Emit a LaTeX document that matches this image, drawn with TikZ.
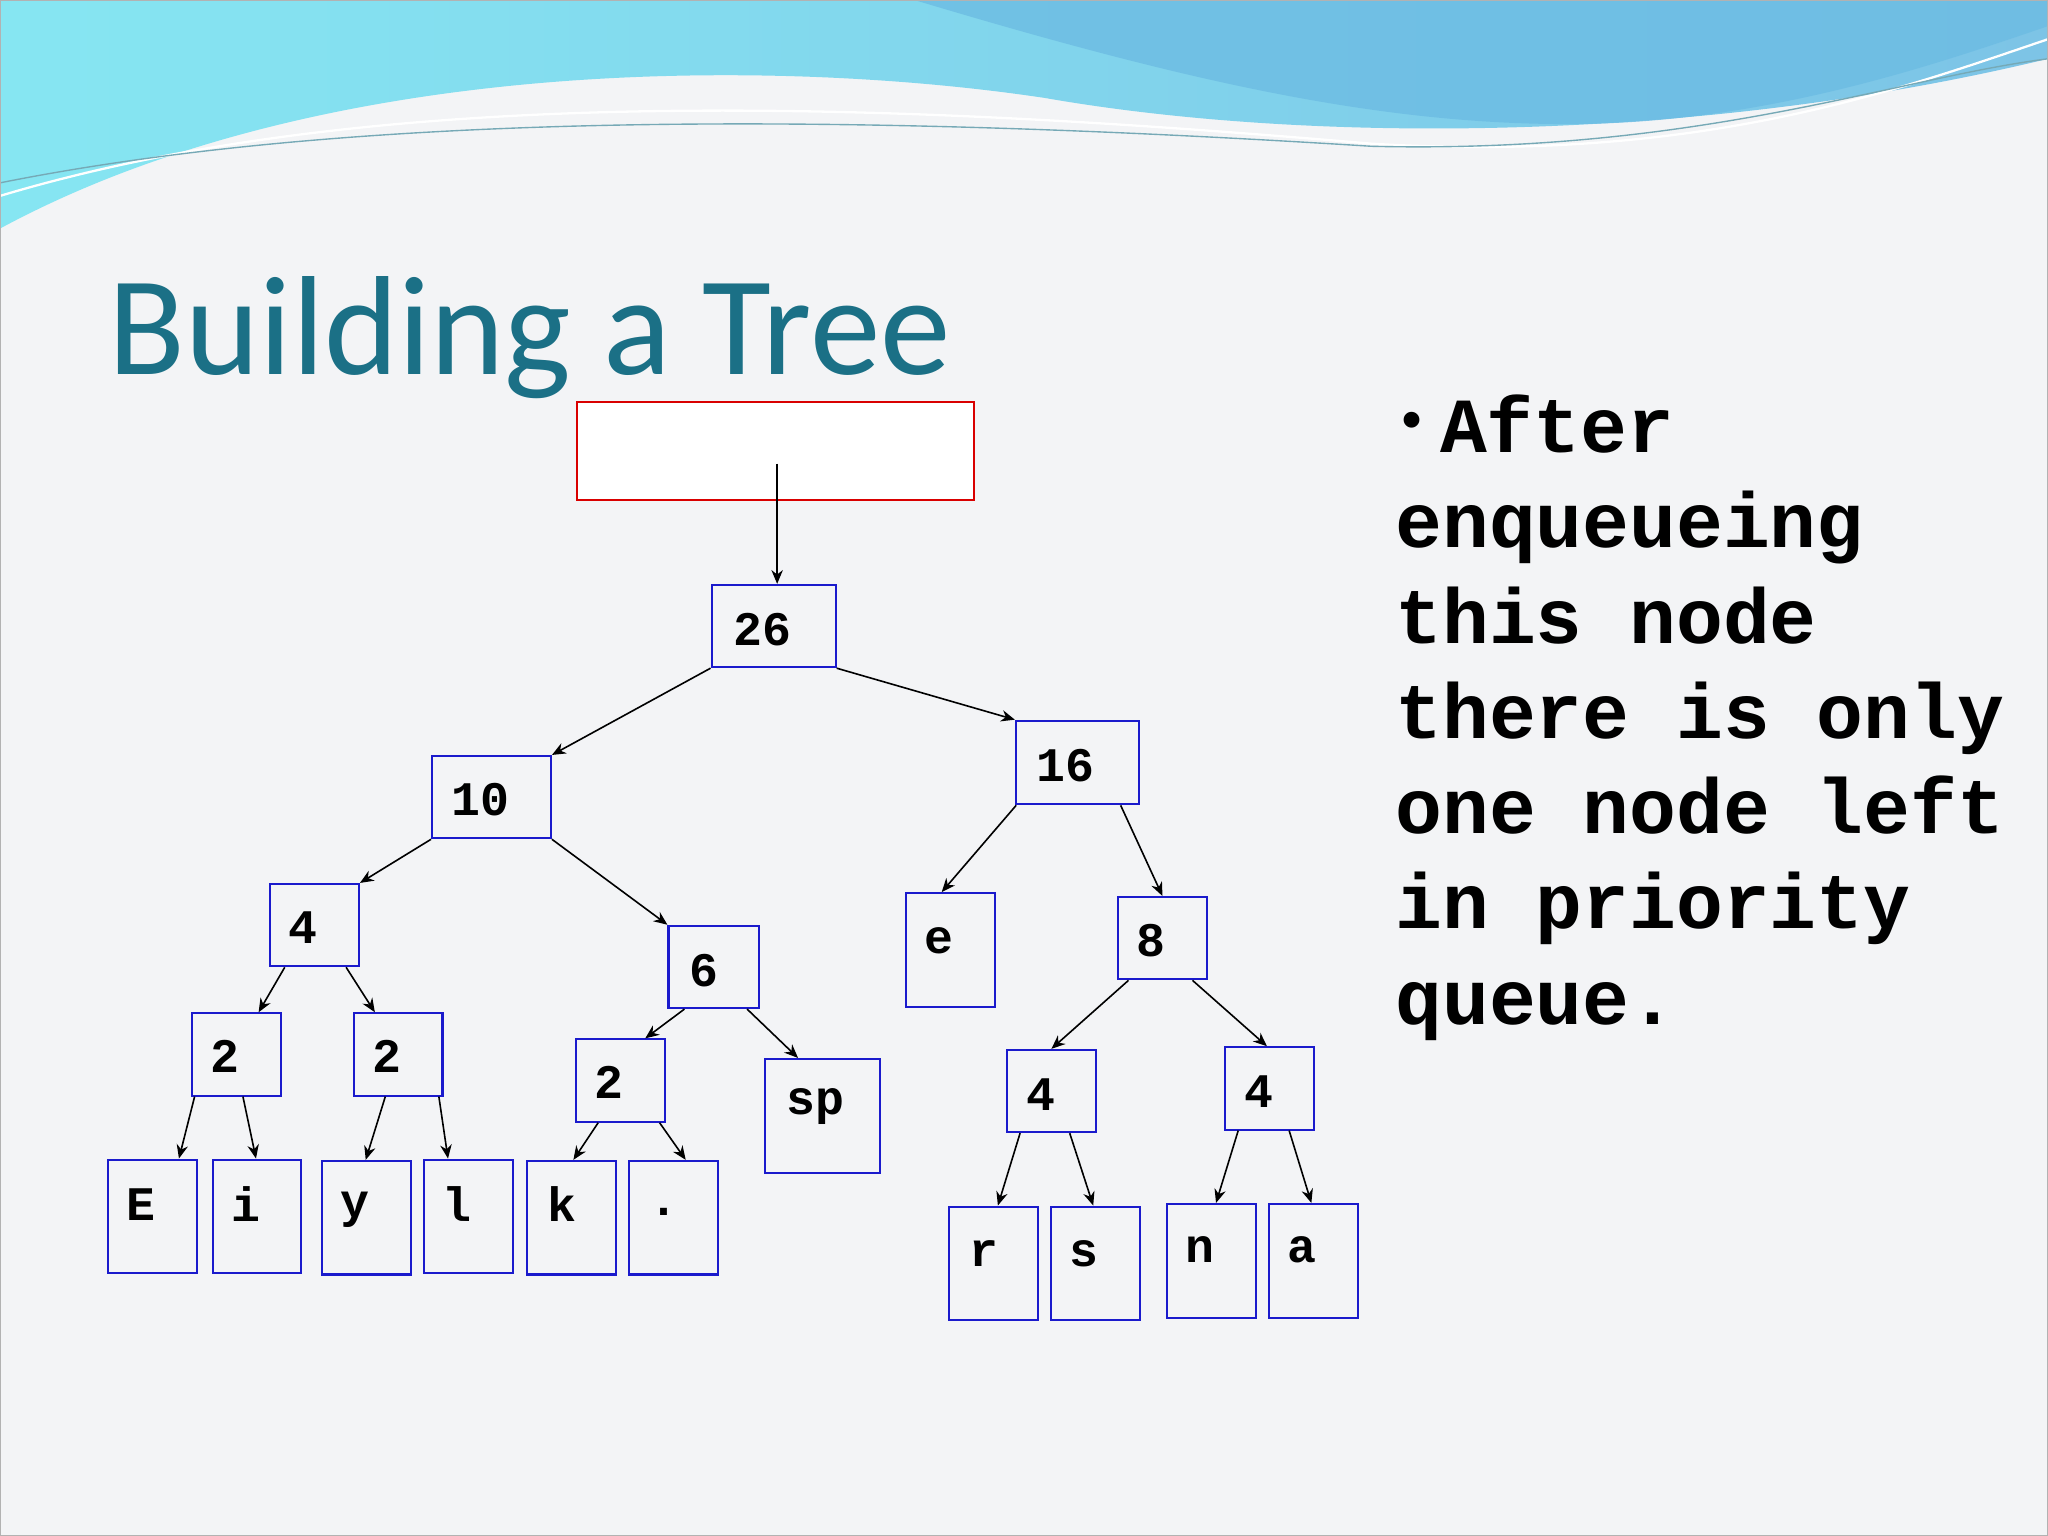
\documentclass[tikz,border=0pt]{standalone}
\usepackage{fontspec}
\setmainfont{Liberation Serif}
\newfontfamily\monob{Liberation Mono}
\newfontfamily\titlef{Carlito}
\usetikzlibrary{calc,arrows.meta}
\definecolor{bgc}{HTML}{F3F4F6}
\definecolor{boxb}{HTML}{1A1ACC}
\definecolor{titc}{HTML}{1B7086}
\definecolor{cyanA}{HTML}{86E6F2}
\definecolor{blueA}{HTML}{5CB5E0}
\begin{document}
\begin{tikzpicture}[x=0.02cm,y=-0.02cm,
  bx/.style={draw=boxb,line width=0.9pt,anchor=north west,inner sep=0pt},
  lb/.style={font=\monob\bfseries\fontsize{21}{24}\selectfont,inner sep=0pt},
  arr/.style={-{Stealth[length=6pt,width=5pt]},line width=0.7pt}]
\fill[bgc] (0,0) rectangle (1568,1176);
\useasboundingbox (0,0) rectangle (1568,1176);
% waves
\shade[left color=cyanA,right color=blueA!80]
 (0,0)--(1568,0)--(1568,45) .. controls (1300,110) and (1000,110) .. (800,75)
 .. controls (600,45) and (250,40) .. (0,175)--cycle;
\fill[blueA!90,opacity=0.8] (700,0) .. controls (900,60) and (1050,95) .. (1200,95)
 .. controls (1350,95) and (1480,50) .. (1568,20) -- (1568,0)--cycle;
\draw[white,line width=1pt] (0,150) .. controls (300,60) and (700,80) .. (1050,110) .. controls (1300,125) and (1450,70) .. (1568,30);
\draw[titc!60,line width=0.6pt] (0,140) .. controls (300,80) and (700,90) .. (1050,112) .. controls (1300,118) and (1450,60) .. (1568,45);
\draw[gray!60,line width=0.6pt] (0,0) rectangle (1568,1176);
% title
\node[anchor=base west,inner sep=0pt,text=titc,font=\titlef\fontsize{61.5}{64}\selectfont] (title) at (83,287) {Building a Tree};
% right text
\node[anchor=north west,inner sep=0pt,align=left,font=\monob\bfseries\fontsize{34}{41.5}\selectfont] (txt) at (1068,302)
 {{\fontsize{24}{24}\selectfont\raisebox{0.5ex}{•}}\hspace{0.15em}After\\enqueueing\\this node\\there is only\\one node left\\in priority\\queue.};
% boxes
\node[draw=red!85!black,line width=0.9pt,fill=white,anchor=north west,minimum width=6.08cm,minimum height=1.5cm,inner sep=0pt] (root) at (441,307) {};
\newcommand{\bxx}[5]{\node[bx,minimum width=#4*0.02cm,minimum height=#5*0.02cm] (#1) at (#2,#3) {};}
\bxx{n26}{544}{447}{95}{63}
\bxx{n10}{330}{578}{91}{63}
\bxx{n16}{777}{551}{94}{64}
\bxx{n4}{206}{676}{68}{63}
\bxx{n6}{511}{708}{69}{63}
\bxx{ne}{693}{683}{68}{87}
\bxx{n8}{855}{686}{68}{63}
\bxx{na2}{146}{775}{68}{63}
\bxx{nb2}{270}{775}{68}{63}
\bxx{nc2}{440}{795}{68}{63}
\bxx{nsp}{585}{810}{88}{87}
\bxx{na4}{770}{803}{68}{63}
\bxx{nb4}{937}{801}{68}{63}
\bxx{nE}{82}{887}{68}{87}
\bxx{ni}{162}{887}{68}{87}
\bxx{ny}{246}{888}{68}{87}
\bxx{nl}{324}{887}{68}{87}
\bxx{nk}{403}{888}{68}{87}
\bxx{ndot}{481}{888}{68}{87}
\bxx{nr}{726}{923}{68}{87}
\bxx{ns}{804}{923}{68}{87}
\bxx{nn}{893}{921}{68}{87}
\bxx{nna}{971}{921}{68}{87}
% labels
\foreach \t/\x/\y in {26/584/482,10/368/612,16/816/586,4/232/710,6/539/743,e/719/720,8/881/720,
 2/172/809,2/296/809,2/466/829,sp/624/847,4/797/838,4/964/836,E/108/922,i/188/922,y/272/926,
 l/350/922,k/430/922,./508/928,r/753/960,s/830/960,n/919/957,a/997/957}
 \node[lb] at (\x,\y) {\t};
% edges
\newcommand{\ed}[4]{\draw[arr] ([xshift=#2*0.02cm]#1.south west) -- ([xshift=#4*0.02cm]#3.north west);}
\draw[arr] ([xshift=154*0.02cm,yshift=-48*0.02cm]root.north west) -- ([xshift=51*0.02cm]n26.north west);
\draw[arr] (n26.south west) -- (n10.north east);
\draw[arr] (n26.south east) -- (n16.north west);
\draw[arr] (n10.south west) -- (n4.north east);
\draw[arr] (n10.south east) -- (n6.north west);
\ed{n16}{1}{ne}{28}
\ed{n16}{81}{n8}{35}
\ed{n4}{12}{na2}{52}
\ed{n4}{59}{nb2}{17}
\ed{n6}{13}{nc2}{54}
\ed{n6}{61}{nsp}{26}
\ed{n8}{9}{na4}{35}
\ed{n8}{58}{nb4}{33}
\ed{na2}{3}{nE}{55}
\ed{na2}{40}{ni}{34}
\ed{nb2}{25}{ny}{34}
\ed{nb2}{66}{nl}{19}
\ed{nc2}{18}{nk}{36}
\ed{nc2}{65}{ndot}{44}
\ed{na4}{11}{nr}{38}
\ed{na4}{49}{ns}{33}
\ed{nb4}{11}{nn}{38}
\ed{nb4}{50}{nna}{33}
\end{tikzpicture}
\end{document}
